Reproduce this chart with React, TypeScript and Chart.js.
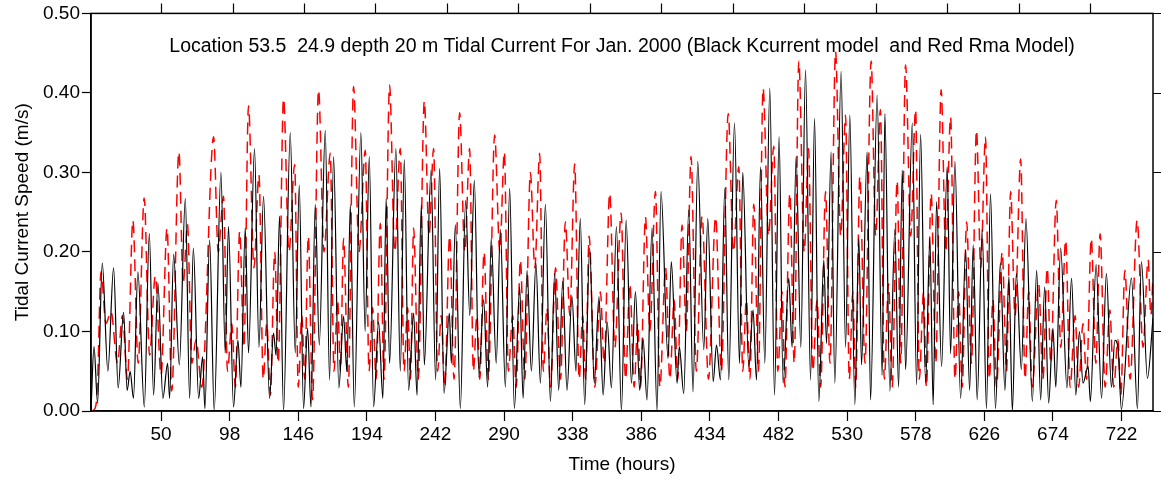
import React, { useEffect, useRef } from "react";
import { Chart, registerables } from "chart.js";

Chart.register(...registerables);

// ---- Data (hour, speed m/s) ----
const blackHours = [
  1, 3.1, 5.6, 8.9, 12.8, 16.8, 20, 23.8, 26.3, 28.4,
  30.7, 33.8, 38.3, 41.8, 44.8, 47.8, 51.3, 54.6, 56, 58.8,
  62.8, 67, 70, 72.6, 76.3, 79.1, 80.7, 84, 87.2, 91.9,
  94.9, 97.2, 100.7, 103.8, 105.9, 108.9, 111.2, 115.4, 118.5, 121.7,
  125.9, 128.7, 130.5, 132.9, 135.7, 140.4, 143.9, 146.7, 149.7, 152.5,
  154.9, 157.9, 160.7, 164.9, 167.9, 170.7, 174.4, 177.7, 180, 182.4,
  185.2, 189.8, 192.8, 195.7, 198.7, 202.2, 205.2, 207.5, 209.9, 214.3,
  217.4, 220.2, 223.2, 226.7, 229.1, 232.1, 234.2, 238.9, 242.1, 244.9,
  248, 251.7, 253.1, 255.9, 259.4, 263.1, 266, 269.2, 272.4, 275.7,
  278.5, 281, 284.5, 287.4, 290.9, 293.9, 297.2, 300.9, 303.3, 306.1,
  309.1, 312.3, 315.4, 318.9, 322.4, 325.4, 328.2, 331, 334, 337.5,
  340.3, 343.3, 346.4, 349.9, 353.1, 356.4, 359.3, 362.1, 365.1, 368.6,
  372.1, 375.4, 379.1, 381.9, 384.9, 387.2, 390, 393.5, 397, 399.8,
  404.7, 407, 411, 412.6, 415.7, 419.2, 422.2, 425.5, 429.7, 432.5,
  436.3, 438.6, 441.4, 444.4, 447.2, 451.2, 454.7, 457, 461.2, 464.2,
  466.6, 469.4, 472.4, 475.9, 479.2, 482.4, 485.2, 489.2, 491.5, 494.3,
  497.6, 500.9, 504.4, 507.2, 510.2, 513.7, 515.6, 518.8, 521.4, 525.8,
  528.9, 531.9, 535.4, 538.2, 540.1, 544, 546.4, 551, 554.5, 556.4,
  559.9, 563.4, 566, 568.6, 570.9, 575.6, 578.6, 581.4, 584.9, 587.9,
  590.2, 592.6, 596.1, 600, 602.4, 605.4, 609.4, 612.9, 615.7, 618.2,
  621, 624.5, 627.5, 630.3, 633.8, 637.2, 640.4, 643.2, 645.6, 648.4,
  651.9, 655.1, 659.6, 662.6, 665.4, 668.2, 671, 674, 676, 679.4,
  683.8, 687, 690, 692.5, 695, 698.6, 700.2, 704.2, 708, 711.4,
  714.9, 717.3, 719.5, 721.9, 728.9, 733.1, 735.9, 740.1, 744,
];
const blackSpeeds = [
  0, 0.081, 0.01, 0.186, 0.05, 0.18, 0.029, 0.124, 0.026, 0.05,
  0.016, 0.175, 0.005, 0.223, 0.02, 0.161, 0.016, 0.06, 0.016, 0.197,
  0.058, 0.267, 0.016, 0.205, 0.016, 0.068, 0.003, 0.215, 0, 0.3,
  0.073, 0.232, 0.005, 0.089, 0.03, 0.23, 0.073, 0.33, 0.08, 0.27,
  0.016, 0.098, 0.07, 0.245, 0, 0.35, 0.073, 0.284, 0.003, 0.104,
  0.005, 0.26, 0.083, 0.353, 0.039, 0.32, 0.029, 0.119, 0.05, 0.259,
  0.005, 0.35, 0.1, 0.32, 0.005, 0.112, 0.016, 0.267, 0.06, 0.33,
  0.05, 0.316, 0.026, 0.123, 0.02, 0.259, 0.058, 0.303, 0.039, 0.305,
  0.022, 0.123, 0.06, 0.234, 0.003, 0.265, 0.12, 0.29, 0.043, 0.14,
  0.03, 0.217, 0.06, 0.228, 0.03, 0.28, 0.003, 0.156, 0.016, 0.177,
  0.05, 0.186, 0.035, 0.26, 0.012, 0.173, 0.026, 0.163, 0.026, 0.144,
  0.05, 0.242, 0.008, 0.205, 0.035, 0.144, 0.02, 0.112, 0.029, 0.232,
  0, 0.24, 0.035, 0.15, 0.026, 0.091, 0.014, 0.23, 0, 0.276,
  0.066, 0.188, 0.035, 0.081, 0.022, 0.253, 0.024, 0.314, 0.077, 0.242,
  0.037, 0.083, 0.039, 0.28, 0.039, 0.362, 0.06, 0.3, 0.056, 0.127,
  0.039, 0.307, 0.06, 0.406, 0.02, 0.345, 0.035, 0.167, 0.08, 0.32,
  0.08, 0.429, 0.039, 0.368, 0.012, 0.19, 0.085, 0.326, 0.035, 0.427,
  0.08, 0.372, 0.008, 0.217, 0.058, 0.326, 0.014, 0.397, 0.045, 0.374,
  0.025, 0.228, 0.03, 0.303, 0.052, 0.362, 0.033, 0.348, 0.035, 0.217,
  0.008, 0.263, 0.056, 0.307, 0.072, 0.314, 0.016, 0.203, 0.026, 0.209,
  0.014, 0.228, 0.003, 0.273, 0.003, 0.186, 0.026, 0.169, 0, 0.173,
  0.052, 0.242, 0.012, 0.177, 0.014, 0.156, 0.01, 0.104, 0.03, 0.205,
  0.029, 0.167, 0.02, 0.1, 0.035, 0.056, 0.012, 0.184, 0.016, 0.173,
  0.03, 0.089, 0.08, 0.002, 0.167, 0.003, 0.188, 0.041, 0.117,
];

const redHours = [
  1, 3.5, 5.5, 8, 11.5, 15, 19.5, 23, 26.5, 30.3,
  34, 38.2, 42, 46, 50, 54.2, 57.5, 62.5, 65.5, 68.5,
  71.5, 74.5, 78.5, 86.8, 90, 93.7, 96.5, 99.5, 102, 105,
  108, 111.2, 115, 118.5, 121.5, 124, 126.5, 129.5, 132, 135.7,
  139.5, 143.5, 146, 148.5, 150.5, 153, 156, 160.2, 164, 168.4,
  171, 173.5, 175.5, 177.7, 181, 184.7, 188.5, 192.9, 195.5, 198,
  200.5, 203.4, 206, 209.9, 213.5, 217.4, 220, 222.5, 224.5, 226.7,
  230, 234.2, 237.5, 240.7, 243.5, 246, 248.5, 251.9, 255, 258.9,
  262.5, 265.9, 268.5, 271, 273, 276, 279, 283.4, 287, 290.2,
  293, 296, 298.5, 301.4, 304.5, 308.4, 311.5, 314.9, 317.5, 320,
  322.5, 326, 329.5, 332.9, 336, 339.4, 342.5, 345, 347, 349.5,
  353.5, 357.4, 360, 363.9, 367.5, 371.9, 375, 378, 381, 383.5,
  385.5, 388.9, 392, 395.9, 399, 403, 406, 409, 411.5, 414.5,
  417.5, 420.8, 424.5, 428.5, 433, 438, 442, 446.8, 450.5, 454.2,
  457, 459.5, 462, 464.7, 468, 471.2, 475, 478.7, 481.5, 484.5,
  486.5, 489.9, 493, 496.2, 500, 503, 506, 509, 511.5, 514.9,
  518, 521.9, 525.5, 528.9, 531.5, 534, 536, 538.9, 542.5, 546.8,
  550, 553.3, 556, 559, 561.5, 565, 567.5, 570.9, 574.5, 577.9,
  580.5, 583.5, 585.5, 588.8, 592, 595.8, 599, 602.4, 605.5, 608,
  610.5, 613.6, 617, 620.5, 623.5, 626.8, 629.5, 632, 634.5, 638.5,
  641.5, 644.4, 647.5, 651.4, 654.5, 657, 659.5, 664, 667, 670,
  672.5, 676.3, 679.5, 682.9, 686, 689.5, 692, 695, 697.5, 700.8,
  704, 707, 710.5, 713.8, 716.5, 719.5, 721.5, 724.3, 728, 732.9,
  737, 740.6, 742.5, 744,
];
const redSpeeds = [
  0, 0.002, 0.03, 0.175, 0.11, 0.125, 0.06, 0.12, 0.04, 0.24,
  0.06, 0.268, 0.07, 0.17, 0.045, 0.23, 0.025, 0.326, 0.16, 0.235,
  0.06, 0.09, 0.03, 0.345, 0.2, 0.27, 0.05, 0.11, 0.03, 0.226,
  0.08, 0.384, 0.18, 0.297, 0.04, 0.11, 0.02, 0.2, 0.06, 0.393,
  0.2, 0.31, 0.03, 0.12, 0.04, 0.22, 0.014, 0.404, 0.2, 0.324,
  0.05, 0.14, 0.05, 0.217, 0.03, 0.408, 0.2, 0.328, 0.05, 0.13,
  0.04, 0.236, 0.04, 0.41, 0.2, 0.33, 0.05, 0.13, 0.04, 0.23,
  0.04, 0.39, 0.22, 0.33, 0.05, 0.12, 0.03, 0.22, 0.04, 0.375,
  0.2, 0.33, 0.05, 0.12, 0.04, 0.2, 0.04, 0.347, 0.2, 0.326,
  0.05, 0.12, 0.03, 0.19, 0.04, 0.3, 0.18, 0.324, 0.05, 0.13,
  0.03, 0.18, 0.04, 0.238, 0.12, 0.311, 0.04, 0.12, 0.04, 0.22,
  0.03, 0.15, 0.06, 0.274, 0.08, 0.249, 0.04, 0.16, 0.03, 0.11,
  0.03, 0.244, 0.1, 0.276, 0.03, 0.18, 0.04, 0.14, 0.04, 0.234,
  0.1, 0.32, 0.05, 0.245, 0.04, 0.244, 0.05, 0.374, 0.2, 0.307,
  0.05, 0.14, 0.04, 0.26, 0.05, 0.406, 0.22, 0.333, 0.05, 0.15,
  0.03, 0.274, 0.06, 0.44, 0.2, 0.33, 0.05, 0.14, 0.03, 0.276,
  0.06, 0.452, 0.22, 0.372, 0.04, 0.15, 0.03, 0.295, 0.06, 0.44,
  0.22, 0.379, 0.04, 0.16, 0.03, 0.29, 0.06, 0.435, 0.22, 0.379,
  0.04, 0.15, 0.03, 0.274, 0.06, 0.404, 0.2, 0.37, 0.04, 0.15,
  0.03, 0.238, 0.06, 0.353, 0.18, 0.345, 0.04, 0.14, 0.03, 0.2,
  0.05, 0.276, 0.12, 0.317, 0.04, 0.15, 0.03, 0.16, 0.04, 0.18,
  0.06, 0.265, 0.08, 0.215, 0.03, 0.12, 0.03, 0.11, 0.04, 0.217,
  0.06, 0.223, 0.03, 0.127, 0.03, 0.09, 0.02, 0.177, 0.04, 0.24,
  0.08, 0.19, 0.12, 0.17,
];

const xTickValues = [50, 98, 146, 194, 242, 290, 338, 386, 434, 482, 530, 578, 626, 674, 722];
const topTickValues = [50, 100, 150, 200, 250, 300, 350, 400, 450, 500, 550, 600, 650, 700];
const yTickValues = [0, 0.1, 0.2, 0.3, 0.4, 0.5];
const titleText =
  "Location 53.5  24.9 depth 20 m Tidal Current For Jan. 2000 (Black Kcurrent model  and Red Rma Model)";
const xTitle = "Time (hours)";
const yTitle = "Tidal Current Speed (m/s)";

const FONT = '"Liberation Sans", Arial, Helvetica, sans-serif';

const framePlugin = {
  id: "frameAndTitle",
  afterDraw(chart: any) {
    const { ctx, chartArea: a, scales } = chart;
    ctx.save();
    ctx.strokeStyle = "#000";
    ctx.lineWidth = 1.5;
    ctx.strokeRect(a.left, a.top, a.right - a.left, a.bottom - a.top);
    ctx.beginPath();
    for (const v of topTickValues) {
      const x = Math.round(scales.x.getPixelForValue(v)) + 0.5;
      ctx.moveTo(x, a.top);
      ctx.lineTo(x, a.top - 10);
    }
    for (const v of yTickValues) {
      const y = Math.round(scales.y.getPixelForValue(v)) + 0.5;
      ctx.moveTo(a.right, y);
      ctx.lineTo(a.right + 10, y);
    }
    ctx.lineWidth = 1.2;
    ctx.stroke();
    ctx.fillStyle = "#000";
    ctx.font = `19.5px ${FONT}`;
    ctx.textAlign = "center";
    ctx.textBaseline = "middle";
    ctx.fillText(titleText, (a.left + a.right) / 2, a.top + 33);
    ctx.restore();
  },
};

export default function App() {
  const ref = useRef<HTMLCanvasElement | null>(null);

  useEffect(() => {
    document.body.style.margin = "0";
    const canvas = ref.current;
    if (!canvas) return;
    const blackData = blackHours.map((h, i) => ({ x: h, y: blackSpeeds[i] }));
    const redData = redHours.map((h, i) => ({ x: h, y: redSpeeds[i] }));

    const chart = new Chart(canvas, {
      type: "line",
      data: {
        datasets: [
          {
            label: "Kcurrent",
            data: blackData,
            borderColor: "#000000",
            borderWidth: 1.2,
            pointRadius: 0,
            cubicInterpolationMode: "monotone",
            fill: false,
          },
          {
            label: "Rma",
            data: redData,
            borderColor: "#ff0000",
            borderWidth: 1.5,
            borderDash: [12, 7],
            pointRadius: 0,
            cubicInterpolationMode: "monotone",
            fill: false,
          },
        ],
      },
      options: {
        animation: false,
        responsive: false,
        devicePixelRatio: 1,
        layout: { padding: { left: 0, right: 8, top: 13, bottom: 0 } },
        plugins: { legend: { display: false }, tooltip: { enabled: false } },
        scales: {
          x: {
            type: "linear",
            min: 1,
            max: 744,
            grid: { drawOnChartArea: false, drawTicks: true, tickLength: 10, tickColor: "#000", tickWidth: 1.2 },
            border: { display: true, color: "#000", width: 1.5 },
            afterBuildTicks: (scale: any) => {
              scale.ticks = xTickValues.map((v) => ({ value: v }));
            },
            afterFit: (scale: any) => {
              scale.height = 68;
            },
            ticks: {
              color: "#000",
              font: { family: FONT, size: 19 },
              padding: 2,
              maxRotation: 0,
              autoSkip: false,
              callback: (v: any) => String(v),
            },
            title: {
              display: true,
              text: xTitle,
              color: "#000",
              font: { family: FONT, size: 19 },
              padding: { top: 0, bottom: 3 },
            },
          },
          y: {
            min: 0,
            max: 0.5,
            grid: { drawOnChartArea: false, drawTicks: true, tickLength: 9, tickColor: "#000", tickWidth: 1.2 },
            border: { display: true, color: "#000", width: 1.5 },
            afterBuildTicks: (scale: any) => {
              scale.ticks = yTickValues.map((v) => ({ value: v }));
            },
            afterFit: (scale: any) => {
              scale.width = 91;
            },
            ticks: {
              color: "#000",
              font: { family: FONT, size: 19 },
              padding: 2,
              callback: (v: any) => Number(v).toFixed(2),
            },
            title: {
              display: true,
              text: yTitle,
              color: "#000",
              font: { family: FONT, size: 19 },
              padding: { top: 11, bottom: 0 },
            },
          },
        },
      },
      plugins: [framePlugin],
    });
    return () => chart.destroy();
  }, []);

  return (
    <div style={{ position: "absolute", left: 0, top: 0, width: 1161, height: 479, background: "#fff" }}>
      <canvas ref={ref} width={1161} height={479} />
    </div>
  );
}
